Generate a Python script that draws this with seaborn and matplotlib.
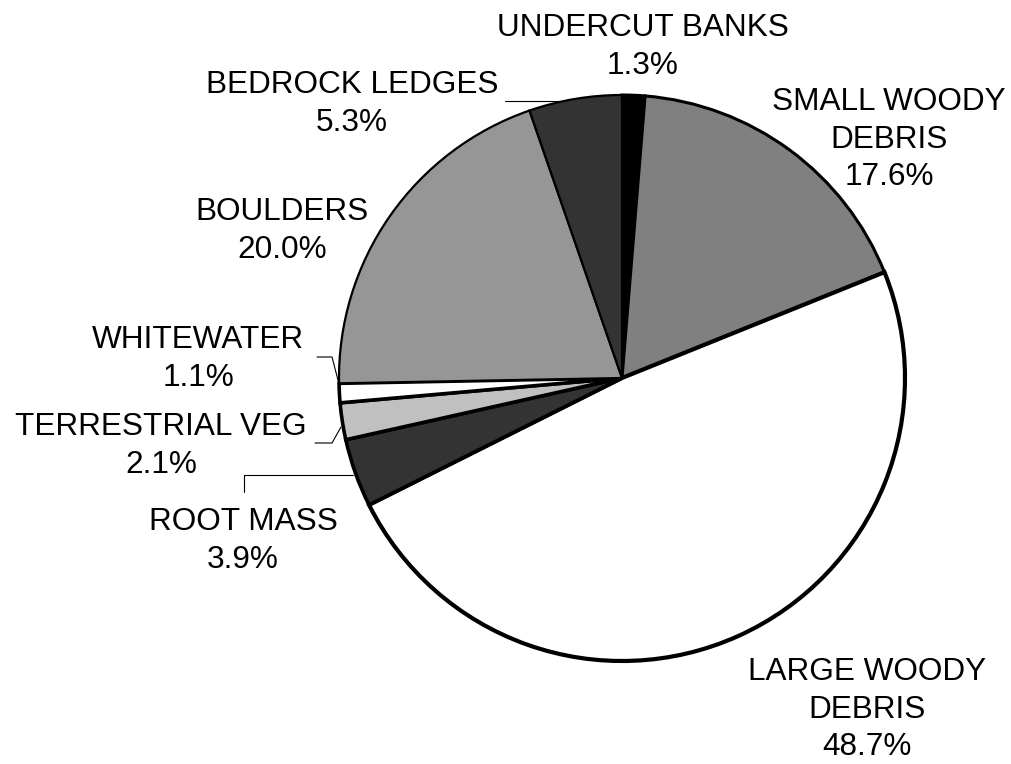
import matplotlib
matplotlib.use("Agg")
import matplotlib.pyplot as plt
import seaborn as sns

# habitat categories, clockwise from 12 o'clock
categories = ["UNDERCUT BANKS", "SMALL WOODY\nDEBRIS", "LARGE WOODY\nDEBRIS", "ROOT MASS",
              "TERRESTRIAL VEG", "WHITEWATER", "BOULDERS", "BEDROCK LEDGES"]
percents = [1.3, 17.6, 48.7, 3.9, 2.1, 1.1, 20.0, 5.3]
colors = ["#000000", "#808080", "#ffffff", "#333333", "#c0c0c0", "#ffffff", "#969696", "#333333"]

sns.set_theme(style="white")
plt.rcParams["font.family"] = ["Liberation Sans", "DejaVu Sans"]

W, H = 1011, 764
CX, CY, R = 622, 378, 283  # pie centre / radius in pixels


def px(x, y):
    return (x - CX) / R, (CY - y) / R


fig = plt.figure(figsize=(W / 100, H / 100), dpi=100)
ax = fig.add_axes([0, 0, 1, 1])

wedges, _ = ax.pie(percents, colors=colors, startangle=90, counterclock=False,
                   radius=1, wedgeprops=dict(edgecolor="black", linewidth=2.2))
for w, lw in zip(wedges, [2.2, 2.2, 3.0, 2.6, 2.6, 2.6, 1.6, 1.6]):
    w.set_linewidth(lw)

# label positions (pixel, top-centre of text block)
label_pos = [(643, 13), (889, 87), (867, 657), (243, 507),
             (161, 412), (198, 325), (282, 197), (352, 70)]
for name, pct, (x, y) in zip(categories, percents, label_pos):
    tx, ty = px(x, y)
    ax.text(tx, ty, f"{name}\n{pct:.1f}%", ha="center", va="top",
            fontsize=22.7, linespacing=1.33, color="black")

# leader lines
leaders = [
    [(505, 101), (562, 101)],
    [(317, 357), (332, 357), (339, 384)],
    [(315, 443), (332, 443), (341, 427)],
    [(244, 492), (244, 475), (353, 475)],
]
for pts in leaders:
    xs, ys = zip(*[px(x, y) for x, y in pts])
    ax.plot(xs, ys, color="black", linewidth=0.8, zorder=0.5)

ax.set_xlim(-CX / R, (W - CX) / R)
ax.set_ylim((CY - H) / R, CY / R)
ax.axis("off")

fig.savefig("out.png", dpi=100)
